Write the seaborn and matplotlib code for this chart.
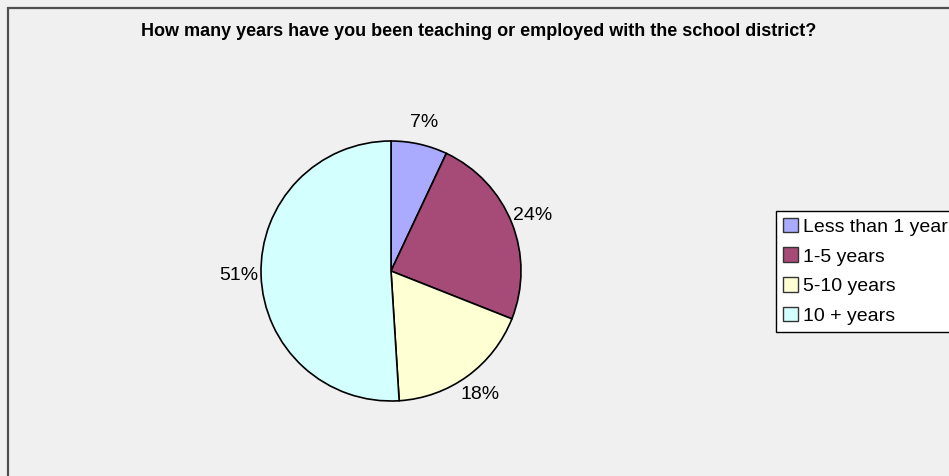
import matplotlib
matplotlib.use("Agg")
import matplotlib.pyplot as plt
from matplotlib.patches import Rectangle
import seaborn as sns

# Survey responses: years teaching / employed with the district
categories = ["Less than 1 year", "1-5 years", "5-10 years", "10 + years"]
shares = [7, 24, 18, 51]
colors = ["#AAAAFF", "#A64B78", "#FFFFD4", "#D4FFFF"]
title = "How many years have you been teaching or employed with the school district?"

sns.set_theme(style="white")
plt.rcParams["font.family"] = ["Liberation Sans", "DejaVu Sans"]
plt.rcParams["text.color"] = "black"

W, H = 949, 476
fig = plt.figure(figsize=(W / 100, H / 100), dpi=100)
fig.patch.set_facecolor("#F0F0F0")

# chart-area frame (runs off the right and bottom edges)
fig.patches.append(Rectangle((8 / W, -0.05), 1.2, 1 - 8 / H + 0.05,
                             transform=fig.transFigure, fill=False,
                             edgecolor="#505050", linewidth=1.6))

fig.text(479 / W, 1 - 32 / H, title, ha="center", va="center",
         fontsize=13, fontweight="bold", color="black")

# pie plot area: centre (391, 271) px, radius 130 px
cx, cy, r = 391, 271, 130
ax = fig.add_axes([(cx - r) / W, (H - cy - r) / H, 2 * r / W, 2 * r / H])
wedges, texts, pcts = ax.pie(shares, colors=colors, autopct="%1.0f%%",
                             pctdistance=1.17,
                             startangle=90, counterclock=False,
                             wedgeprops=dict(edgecolor="black", linewidth=1.2),
                             textprops=dict(fontsize=14, color="black"))
ax.set_xlim(-1, 1)
ax.set_ylim(-1, 1)
ax.set_aspect("equal")
ax.axis("off")

leg = fig.legend(wedges, categories, loc="upper left",
                 bbox_to_anchor=(776 / W, 1 - 211 / H), borderaxespad=0,
                 fontsize=14, frameon=True, fancybox=False, labelcolor="black",
                 handlelength=0.77, handleheight=0.77, handletextpad=0.26,
                 labelspacing=0.6, borderpad=0.35)
frame = leg.get_frame()
frame.set_edgecolor("black")
frame.set_linewidth(1.0)
frame.set_facecolor("white")
frame.set_alpha(1)
for h in leg.legend_handles:
    h.set_edgecolor("#333333")
    h.set_linewidth(1.0)

fig.savefig("out.png", dpi=100, facecolor=fig.get_facecolor())
